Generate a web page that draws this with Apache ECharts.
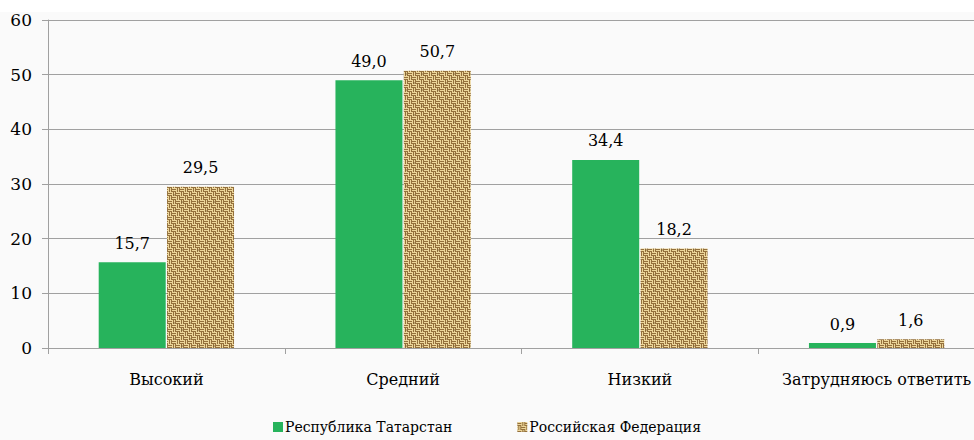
<!DOCTYPE html>
<html><head><meta charset="utf-8">
<script src="https://cdn.jsdelivr.net/npm/echarts@6/dist/echarts.min.js"></script>
<style>html,body{margin:0;padding:0;background:#fff}#c{width:974px;height:440px}</style>
</head><body><div id="c"></div>
<script>
const categories = ['Высокий', 'Средний', 'Низкий', 'Затрудняюсь ответить'];
const seriesNames = ['Республика Татарстан', 'Российская Федерация'];
const tatarstan = [15.7, 49.0, 34.4, 0.9];
const russia = [29.5, 50.7, 18.2, 1.6];
const yTicks = [0, 10, 20, 30, 40, 50, 60];

function burlap() {
  const c = document.createElement('canvas');
  const n = 16; c.width = n; c.height = n;
  const g = c.getContext('2d');
  g.fillStyle = '#c9a765'; g.fillRect(0, 0, n, n);
  for (let by = 0; by < n; by += 4) {
    for (let bx = 0; bx < n; bx += 4) {
      const horiz = ((bx + by) / 4) % 2 === 0;
      for (let k = 0; k < 4; k++) {
        g.fillStyle = k % 2 === 0 ? '#ecd69a' : '#94703c';
        if (horiz) g.fillRect(bx, by + k, 4, 1); else g.fillRect(bx + k, by, 1, 4);
      }
    }
  }
  g.fillStyle = 'rgba(110,80,40,0.35)';
  g.fillRect(5, 9, 2, 2); g.fillRect(13, 2, 2, 2);
  return c;
}
const pat = { image: burlap(), repeat: 'repeat' };
const fmt = p => p.value.toFixed(1).replace('.', ',');
const serif = 'DejaVu Serif';
const chart = echarts.init(document.getElementById('c'), null, { renderer: 'svg' });
chart.setOption({
  backgroundColor: '#fafafa',
  animation: false,
  textStyle: { fontFamily: serif },
  graphic: [{ type: 'rect', shape: { x: 0, y: 0, width: 974, height: 12 }, style: { fill: '#ffffff' }, silent: true }],
  grid: { left: 48, right: -21, top: 20, bottom: 92, outerBoundsMode: 'none', containLabel: false },
  legend: {
    bottom: 1, left: 'center', itemWidth: 10, itemHeight: 10, itemGap: 65, icon: 'rect',
    textStyle: { fontFamily: serif, fontSize: 14, color: '#000', padding: [0, 0, 0, -3] },
    data: seriesNames
  },
  xAxis: {
    type: 'category', data: categories,
    axisLine: { lineStyle: { color: '#a0a0a0' } },
    axisTick: { show: true, length: 6, lineStyle: { color: '#a0a0a0' } },
    axisLabel: { fontFamily: serif, fontSize: 16, color: '#000', margin: 23, interval: 0 }
  },
  yAxis: {
    type: 'value', min: yTicks[0], max: yTicks[yTicks.length - 1], interval: 10,
    axisLine: { show: true, lineStyle: { color: '#a0a0a0' } },
    axisTick: { show: true, length: 6, lineStyle: { color: '#a0a0a0' } },
    splitLine: { lineStyle: { color: '#a0a0a0' } },
    axisLabel: { fontFamily: serif, fontSize: 17, color: '#000', margin: 16 }
  },
  series: [
    { name: seriesNames[0], type: 'bar', data: tatarstan, barWidth: 67, barGap: '2%',
      itemStyle: { color: '#27b35c' },
      label: { show: true, position: 'top', distance: 11, formatter: fmt, fontFamily: serif, fontSize: 16, color: '#000' } },
    { name: seriesNames[1], type: 'bar', data: russia, barWidth: 67,
      itemStyle: { color: pat },
      label: { show: true, position: 'top', distance: 11, formatter: fmt, fontFamily: serif, fontSize: 16, color: '#000' } }
  ]
});
</script></body></html>
